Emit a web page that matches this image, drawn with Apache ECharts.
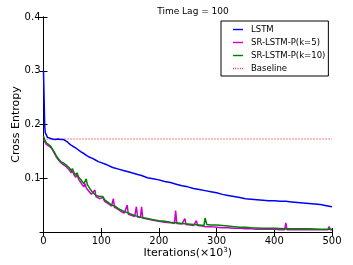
<!DOCTYPE html>
<html><head><meta charset="utf-8">
<script src="https://cdn.jsdelivr.net/npm/echarts@6/dist/echarts.min.js"></script>
<style>html,body{margin:0;padding:0;background:#fff}#c{width:353px;height:265px}</style>
</head><body><div id="c"></div>
<script>
const xTicks = [0, 100, 200, 300, 400, 500];
const yTicks = [0.1, 0.2, 0.3, 0.4];
const seriesNames = ['LSTM', 'SR-LSTM-P(k=5)', 'SR-LSTM-P(k=10)', 'Baseline'];
const lstm = [[0,0.30],[1,0.25],[2,0.20],[3,0.185],[5,0.182],[7,0.176],[10,0.173],[15,0.173],[20,0.172],[25,0.173],[30,0.172],[35,0.172],[38,0.171],[42,0.167],[46,0.163],[50,0.160],[55,0.157],[60,0.153],[65,0.149],[70,0.146],[75,0.142],[80,0.139],[85,0.137],[90,0.134],[95,0.131],[100,0.129],[110,0.125],[120,0.120],[130,0.117],[140,0.114],[150,0.111],[160,0.108],[170,0.105],[180,0.101],[190,0.099],[200,0.097],[210,0.094],[220,0.092],[230,0.089],[240,0.086],[250,0.084],[260,0.081],[270,0.079],[280,0.077],[290,0.075],[300,0.073],[310,0.070],[320,0.068],[330,0.066],[340,0.064],[350,0.062],[360,0.061],[370,0.060],[380,0.059],[390,0.058],[400,0.058],[410,0.057],[420,0.057],[430,0.056],[440,0.055],[450,0.054],[460,0.053],[470,0.052],[480,0.051],[490,0.049],[500,0.047]];
const srK5 = [[0,0.172],[2,0.168],[5,0.163],[8,0.160],[12,0.158],[15,0.154],[18,0.148],[22,0.140],[26,0.134],[30,0.129],[35,0.125],[40,0.121],[45,0.115],[48,0.110],[50,0.114],[53,0.106],[56,0.102],[58,0.106],[61,0.098],[64,0.093],[67,0.088],[70,0.084],[72,0.090],[74,0.082],[77,0.078],[80,0.074],[83,0.070],[86,0.068],[89,0.078],[91,0.066],[94,0.064],[97,0.062],[100,0.060],[103,0.064],[106,0.057],[109,0.055],[112,0.053],[115,0.051],[118,0.048],[121,0.062],[123,0.046],[128,0.043],[132,0.040],[136,0.037],[140,0.035],[143,0.034],[145,0.050],[147,0.033],[152,0.031],[158,0.029],[161,0.047],[163,0.028],[168,0.027],[170,0.047],[172,0.026],[180,0.024],[190,0.022],[200,0.020],[210,0.018],[220,0.017],[227,0.016],[229,0.040],[231,0.016],[240,0.015],[245,0.025],[247,0.014],[255,0.013],[260,0.012],[265,0.021],[267,0.012],[275,0.011],[280,0.010],[290,0.010],[300,0.009],[310,0.008],[320,0.008],[330,0.007],[340,0.007],[350,0.006],[360,0.006],[370,0.005],[380,0.005],[390,0.005],[400,0.005],[410,0.004],[418,0.004],[420,0.017],[422,0.004],[440,0.004],[460,0.004],[480,0.004],[493,0.004],[495,0.010],[497,0.004],[500,0.004]];
const srK10 = [[0,0.178],[2,0.172],[5,0.166],[8,0.163],[12,0.160],[15,0.158],[18,0.150],[22,0.142],[26,0.136],[30,0.131],[35,0.128],[40,0.124],[45,0.119],[48,0.114],[50,0.118],[53,0.110],[56,0.106],[58,0.110],[61,0.102],[64,0.098],[67,0.094],[70,0.090],[72,0.094],[74,0.099],[76,0.088],[79,0.083],[82,0.078],[85,0.074],[88,0.072],[91,0.068],[94,0.068],[97,0.066],[100,0.063],[103,0.066],[106,0.060],[109,0.058],[112,0.055],[115,0.054],[118,0.050],[121,0.053],[124,0.048],[128,0.045],[132,0.042],[136,0.040],[140,0.038],[145,0.036],[150,0.034],[160,0.030],[170,0.027],[180,0.025],[190,0.023],[200,0.021],[210,0.020],[220,0.018],[230,0.017],[240,0.016],[250,0.015],[260,0.014],[270,0.013],[278,0.012],[280,0.026],[283,0.014],[290,0.013],[300,0.013],[310,0.012],[320,0.011],[330,0.010],[340,0.009],[350,0.009],[360,0.008],[380,0.007],[400,0.007],[420,0.006],[440,0.006],[460,0.006],[480,0.005],[500,0.005]];
const baseline = [[0,0.173],[500,0.173]];

const FONT = 'DejaVu Sans';
const SOLID_ICON = 'path://M0,0L14,0L14,2L0,2Z';
const DOT_ICON = 'path://M0,0L1,0L1,2L0,2ZM3,0L4,0L4,2L3,2ZM6,0L7,0L7,2L6,2ZM9,0L10,0L10,2L9,2ZM12,0L13,0L13,2L12,2Z';
const chart = echarts.init(document.getElementById('c'), null, {renderer:'canvas'});
const tickStyle = {show:true, inside:true, length:4, lineStyle:{color:'#000', width:1}};
const axLine = {show:true, lineStyle:{color:'#000', width:1}};
function mkLine(name, data, color, type, width){
  return {name, type:'line', data, showSymbol:false, symbol:'none', xAxisIndex:0, yAxisIndex:0,
    lineStyle:{color, width, type}, itemStyle:{color}, animation:false, z: 2};
}
chart.setOption({
  animation:false,
  backgroundColor:'#fff',
  textStyle:{fontFamily:FONT},
  title:{text:'Time Lag = 100', left:188, textAlign:'center', top:2,
    textStyle:{fontSize:9, fontWeight:'normal', color:'#000', fontFamily:FONT}},
  grid:{left:43.5, right:21, top:17, bottom:33, outerBoundsMode:'none'},
  legend:{show:true, orient:'vertical', left:221, top:21,
    padding:[4,3,3,12], itemGap:4, itemWidth:10, itemHeight:2,
    borderColor:'#000', borderWidth:1, borderRadius:0, backgroundColor:'#fff',
    textStyle:{fontSize:8.5, color:'#000', fontFamily:FONT, padding:[0,0,0,3], lineHeight:9, height:9},
    data: seriesNames.map((n,i)=>({name:n, icon: i===3 ? DOT_ICON : SOLID_ICON}))
  },
  xAxis:[
    {type:'value', min:0, max:500, interval:100, position:'bottom',
     axisLine:axLine, axisTick:tickStyle, splitLine:{show:false},
     axisLabel:{fontSize:10, color:'#000', margin:4, fontFamily:FONT,
       formatter:v=>xTicks.includes(v)?String(v):''},
     name:'Iterations(×10{s|3})', nameLocation:'middle', nameGap:15, nameMoveOverlap:false,
     nameTextStyle:{fontSize:11, color:'#000', fontFamily:FONT,
       rich:{s:{fontSize:7, verticalAlign:'top', padding:[0,0,5,0], fontFamily:FONT, color:'#000'}}}},
    {type:'value', min:0, max:500, interval:100, position:'top',
     axisLine:axLine, axisTick:tickStyle, axisLabel:{show:false}, splitLine:{show:false}}
  ],
  yAxis:[
    {type:'value', min:0, max:0.4, interval:0.1, position:'left',
     axisLine:axLine, axisTick:tickStyle, splitLine:{show:false},
     axisLabel:{fontSize:10, color:'#000', margin:3, fontFamily:FONT,
       formatter:v=>{const t=yTicks.find(k=>Math.abs(k-v)<1e-9); return t===undefined?'':t.toFixed(1);}},
     name:'Cross Entropy', nameLocation:'middle', nameGap:22, nameMoveOverlap:false,
     nameTextStyle:{fontSize:11, color:'#000', fontFamily:FONT}},
    {type:'value', min:0, max:0.4, interval:0.1, position:'right',
     axisLine:axLine, axisTick:tickStyle, axisLabel:{show:false}, splitLine:{show:false}}
  ],
  series:[
    mkLine(seriesNames[0], lstm, '#0000ff', 'solid', 1.5),
    mkLine(seriesNames[1], srK5, '#cc00cc', 'solid', 1.5),
    mkLine(seriesNames[2], srK10, '#008000', 'solid', 1.5),
    Object.assign(mkLine(seriesNames[3], baseline, '#ff0000', [1,2], 1.2), {z:1})
  ]
});
</script></body></html>
